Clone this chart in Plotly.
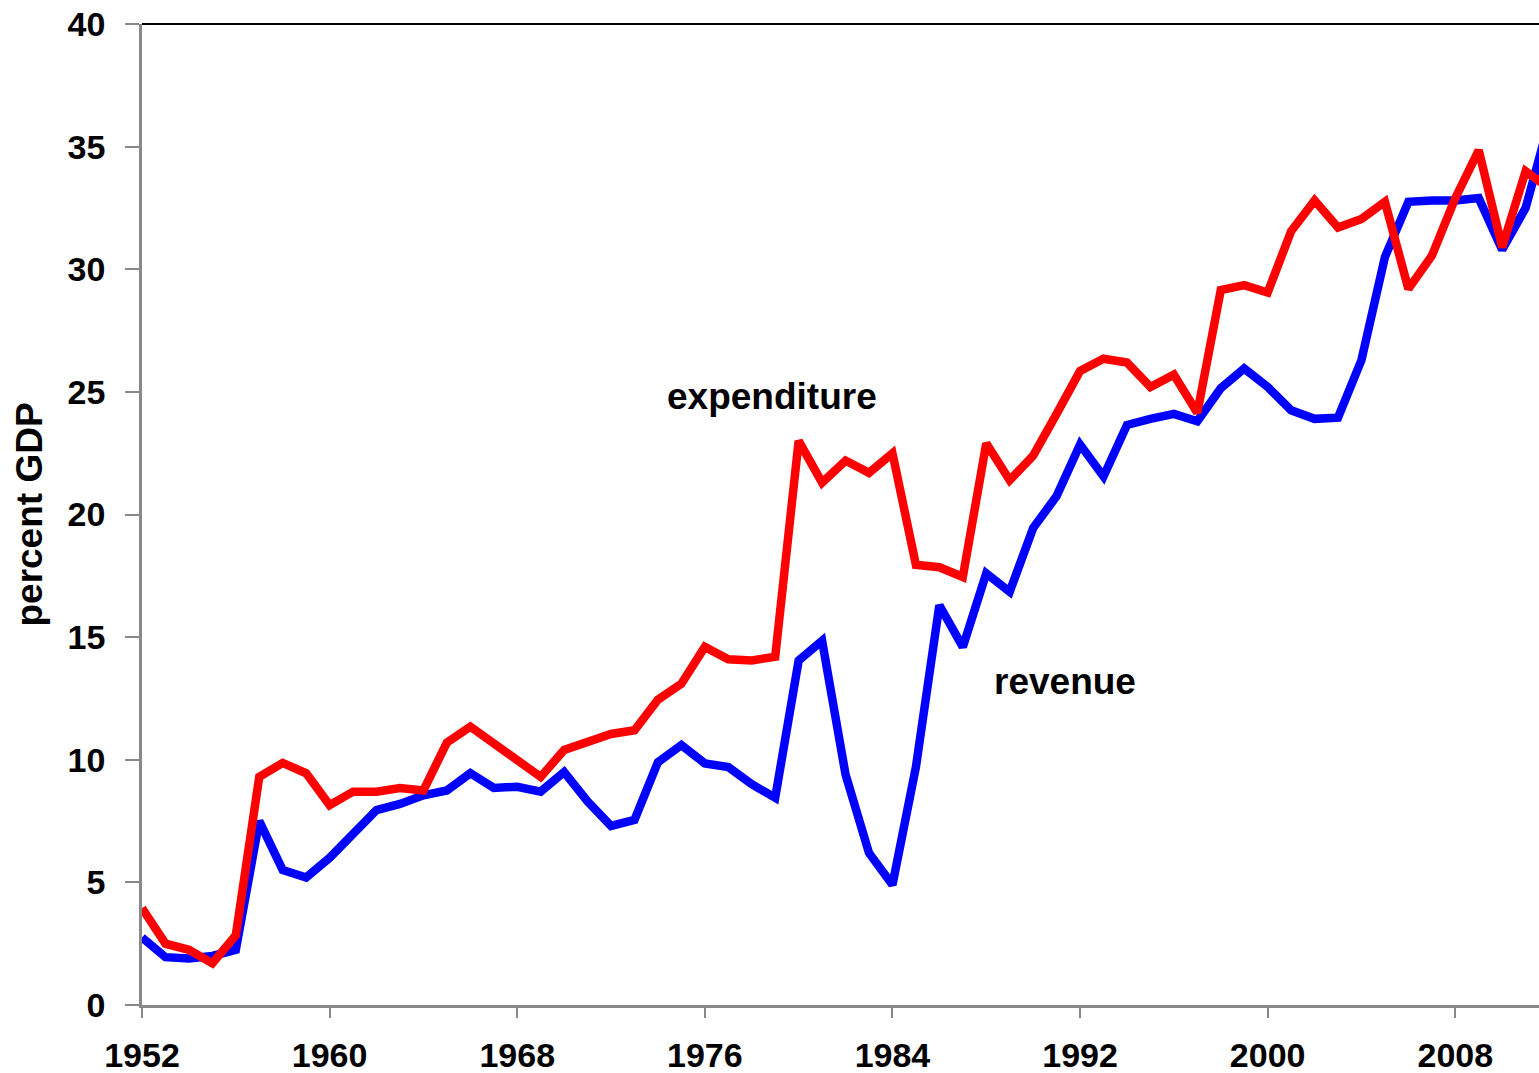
import plotly.graph_objects as go

# Data (percent of GDP)
years = list(range(1952, 2013))

revenue = [
    2.75, 1.95, 1.9, 2.0, 2.25, 7.5, 5.5, 5.2, 6.0, 7.0,
    7.95, 8.2, 8.55, 8.75, 9.45, 8.85, 8.9, 8.7, 9.5, 8.3,
    7.3, 7.55, 9.9, 10.6, 9.85, 9.7, 9.0, 8.45, 14.05, 14.85,
    9.4, 6.2, 4.9, 9.7, 16.3, 14.6, 17.6, 16.85, 19.45, 20.75,
    22.85, 21.55, 23.65, 23.9, 24.1, 23.8, 25.15, 25.95, 25.2, 24.25,
    23.9, 23.95, 26.3, 30.5, 32.75, 32.8, 32.8, 32.9, 30.8, 32.5,
    36.0,
]

expenditure = [
    3.95, 2.5, 2.25, 1.7, 2.85, 9.3, 9.87, 9.45, 8.15, 8.7,
    8.7, 8.85, 8.75, 10.7, 11.35, 10.7, 10.05, 9.3, 10.4, 10.7,
    11.05, 11.2, 12.45, 13.1, 14.6, 14.1, 14.05, 14.2, 23.0, 21.3,
    22.2, 21.7, 22.5, 17.95, 17.85, 17.45, 22.9, 21.4, 22.4, 24.1,
    25.85, 26.35, 26.2, 25.2, 25.7, 24.15, 29.15, 29.35, 29.05, 31.55,
    32.8, 31.7, 32.05, 32.75, 29.2, 30.55, 32.9, 34.85, 30.9, 34.0,
    33.3,
]

x_ticks = [1952, 1960, 1968, 1976, 1984, 1992, 2000, 2008]
y_ticks = list(range(0, 41, 5))

FONT = "Arial, Liberation Sans, sans-serif"

fig = go.Figure()

fig.add_trace(go.Scatter(
    x=years, y=revenue, mode="lines", name="revenue",
    line=dict(color="#0000ff", width=8.5),
))
fig.add_trace(go.Scatter(
    x=years, y=expenditure, mode="lines", name="expenditure",
    line=dict(color="#ff0000", width=8.5),
))

fig.add_annotation(x=1978.87, y=24.83, text="<b>expenditure</b>", showarrow=False,
                   font=dict(family=FONT, size=37, color="black"))
fig.add_annotation(x=1991.36, y=13.2, text="<b>revenue</b>", showarrow=False,
                   font=dict(family=FONT, size=37, color="black"))

# thin black frame line along the top of the plot area
fig.add_shape(type="line", xref="paper", yref="paper", x0=0, x1=1, y0=1, y1=1,
              line=dict(color="black", width=2))

fig.update_layout(
    width=1539, height=1073,
    margin=dict(l=142, r=0, t=24, b=68),
    plot_bgcolor="white", paper_bgcolor="white",
    showlegend=False,
    font=dict(family=FONT, color="black"),
)

fig.update_xaxes(
    range=[1952, 2011.57], automargin=False,
    tickmode="array", tickvals=x_ticks,
    ticktext=[f"<b>{v}</b>" for v in x_ticks],
    tickfont=dict(family=FONT, size=34, color="black"),
    ticks="outside", ticklen=10, tickwidth=1.5, tickcolor="#888888",
    showline=True, linecolor="#888888", linewidth=3,
    showgrid=False, zeroline=False,
    ticklabelstandoff=8,
)

fig.update_yaxes(
    range=[0, 40], automargin=False,
    tickmode="array", tickvals=y_ticks,
    ticktext=[f"<b>{v}</b>" for v in y_ticks],
    tickfont=dict(family=FONT, size=34, color="black"),
    ticks="outside", ticklen=14, tickwidth=1.5, tickcolor="#888888",
    showline=True, linecolor="#888888", linewidth=2.5,
    showgrid=False, zeroline=False,
    ticklabelstandoff=13,
    title=dict(text="<b>percent GDP</b>", font=dict(family=FONT, size=37, color="black"),
               standoff=14),
)

# drop the default page margin so the figure sits flush in the window
fig.write_html(
    "out.html",
    config={"displayModeBar": False},
    post_script="document.body.style.margin='0';document.body.style.overflow='hidden';",
)
